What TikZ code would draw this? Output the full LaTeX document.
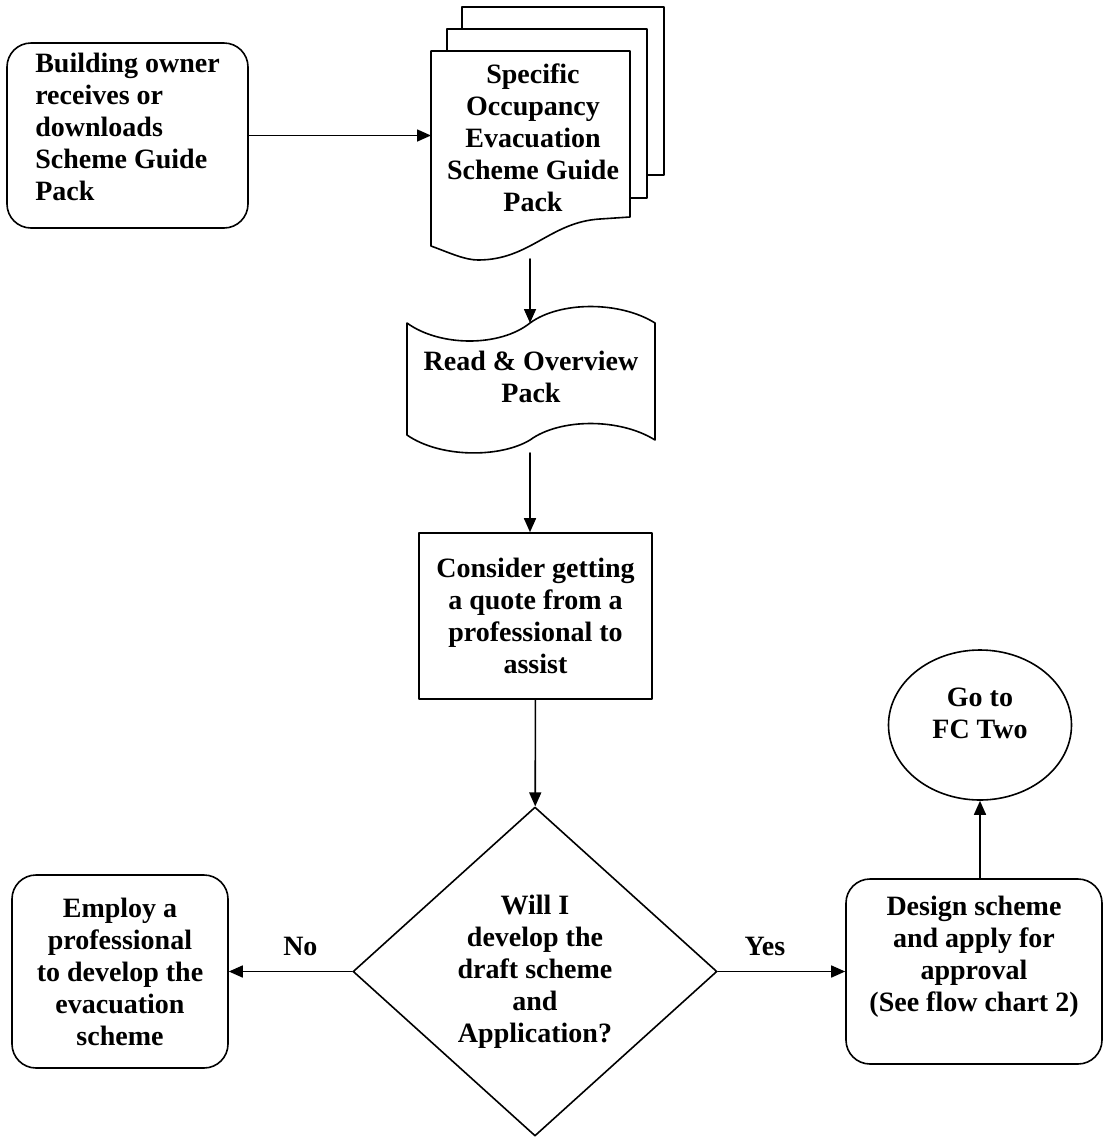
\documentclass[tikz,border=0pt]{standalone}
\usepackage{fontspec}
\setmainfont{Liberation Serif}
\usetikzlibrary{arrows.meta,shapes.geometric}
\definecolor{Ln}{RGB}{0, 0, 0}

\begin{document}
\begin{tikzpicture}[>={Triangle[length=7pt,width=6pt]}, line cap=round, line join=round, x=0.5pt, y=-0.5pt,
    every node/.style={font=\fontsize{14}{16}\selectfont\bfseries, align=center},
    shp/.style={draw=Ln, line width=0.8pt},
    rbox/.style={shp, rounded corners=12pt},
    lnk/.style={->, draw=Ln, line width=0.8pt}]
  \pgfextra{\path[use as bounding box] (0,0) rectangle (1104,1137);}

  % Start box
  \node[rbox, align=left, minimum width=120.5pt, minimum height=92.5pt, text depth=9pt] (start) at (127.5,135.5)
    {Building owner\\receives or\\downloads\\Scheme Guide\\Pack};

  % Guide pack (stacked pages)
  \foreach \xa/\ya/\xb/\yb in {462/7/664/175, 447/29/647/198}{
    \draw[shp, fill=white] (\xa,\ya) rectangle (\xb,\yb);
  }
  \draw[shp, fill=white] (431,51) -- (630,51) -- (630,217) -- (600,219)
    .. controls (550,222) and (530,260) .. (478,260)
    .. controls (465,260) and (450,253) .. (431,246) -- cycle;
  \node (guide) at (533,138) {Specific\\Occupancy\\Evacuation\\Scheme Guide\\Pack};
  \coordinate (guide-w) at (431,135.5);
  \coordinate (guide-s) at (530,259);

  % Read pack (tape)
  \draw[shp, fill=white] (407,323) .. controls (440,347) and (500,347) .. (530,323)
    .. controls (560,301) and (620,301) .. (655,323) -- (655,440)
    .. controls (620,418) and (560,418) .. (530,440)
    .. controls (500,458) and (440,458) .. (407,435) -- cycle;
  \node (readpack) at (531,377) {Read \& Overview\\Pack};
  \coordinate (readpack-n) at (530,323);
  \coordinate (readpack-s) at (530,453);

  \node[shp, minimum width=116.5pt, minimum height=83pt] (quote) at (535.5,616)
    {Consider getting\\a quote from a\\professional to\\assist};

  \node[shp, diamond, aspect=1.1, inner sep=0pt, minimum width=182pt, minimum height=164.5pt] (decide) at (535,971.5)
    {Will I\\develop the\\draft scheme\\and\\Application?};

  \node[rbox, minimum width=108pt, minimum height=96.5pt] (employ) at (120,971.5)
    {Employ a\\professional\\to develop the\\evacuation\\scheme};

  \node[rbox, minimum width=128pt, minimum height=92.5pt, text depth=17.5pt] (design) at (974,971.5)
    {Design scheme\\and apply for\\approval\\(See flow chart 2)};

  \node[shp, ellipse, minimum width=91.5pt, minimum height=75pt, text depth=12pt] (fctwo) at (980,725)
    {Go to\\FC Two};

  % Connectors
  \draw[lnk] (start.east) -- (guide-w);
  \draw[lnk] (guide-s) -- (readpack-n);
  \draw[lnk] (readpack-s) -- (readpack-s |- quote.north);
  \draw[lnk] (quote) -- (decide);
  \draw[lnk] (decide) -- node[above=4pt, pos=0.42] (no) {No} (employ);
  \draw[lnk] (decide) -- node[above=4pt, pos=0.37] (yes) {Yes} (design);
  \draw[lnk] (design.north -| fctwo.south) -- (fctwo.south);

\end{tikzpicture}
\end{document}
